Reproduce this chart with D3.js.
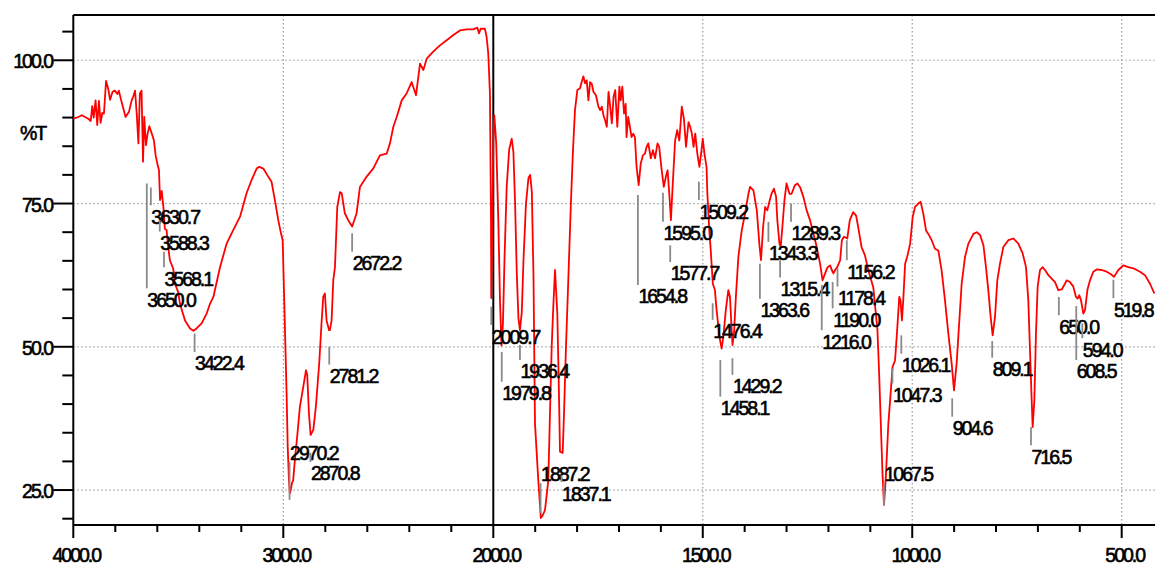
<!DOCTYPE html>
<html>
<head>
<meta charset="utf-8">
<script src="https://cdn.jsdelivr.net/npm/d3@7"></script>
<style>
  html, body { margin: 0; padding: 0; background: #fff; }
  svg { display: block; }
  text { font-family: "Liberation Sans", Arial, sans-serif; font-size: 19.5px; letter-spacing: -2px; fill: #000; stroke: #000; stroke-width: 0.6px; }
</style>
</head>
<body>
<svg id="chart" width="1155" height="566"></svg>
<script>
// IR spectrum: wavenumber (cm-1) and transmittance (%T)
const wavenumber = [
  4000, 3976, 3960, 3944, 3929, 3917, 3910, 3903, 3894, 3886, 3878, 3870, 3862, 3854, 3844, 3833, 3825, 3813, 3802, 3790,
  3783, 3770, 3751, 3735, 3722, 3714, 3706, 3698, 3690, 3683, 3675, 3668, 3662, 3654, 3646, 3638, 3627, 3616, 3608, 3600,
  3592, 3587, 3579, 3571, 3564, 3556, 3548, 3540, 3524, 3516, 3500, 3492, 3468, 3444, 3428, 3413, 3389, 3365, 3349, 3333,
  3302, 3270, 3238, 3206, 3175, 3151, 3127, 3114, 3095, 3072, 3056, 3040, 3024, 3011, 3003, 2999, 2992, 2984, 2979, 2973,
  2969, 2965, 2959, 2953, 2945, 2934, 2921, 2905, 2892, 2886, 2878, 2870, 2857, 2845, 2829, 2818, 2810, 2802, 2794, 2782,
  2778, 2770, 2762, 2754, 2743, 2730, 2722, 2707, 2691, 2672, 2651, 2635, 2603, 2572, 2540, 2508, 2492, 2476, 2460, 2436,
  2413, 2389, 2368, 2349, 2333, 2317, 2286, 2254, 2222, 2190, 2159, 2127, 2095, 2076, 2068, 2060, 2040, 2032, 2024, 2016,
  2011, 2009.7, 2004, 2000, 1997.6, 1993, 1988, 1984, 1980.4, 1977, 1973, 1968, 1962, 1956, 1952, 1948, 1944, 1940, 1936.4, 1932,
  1928, 1922, 1916, 1912, 1908, 1904, 1900.5, 1892.6, 1886.5, 1882, 1876.6, 1868.7, 1864.7, 1860.6, 1856.8, 1852.7, 1847.2, 1843.9, 1840.8, 1834.4,
  1831.2, 1826.5, 1821, 1814.5, 1809.8, 1805, 1799.4, 1793, 1789, 1785, 1781, 1777, 1773, 1769, 1765, 1761, 1755, 1749, 1745, 1741,
  1737, 1733, 1729, 1725, 1721, 1717, 1713, 1709, 1704, 1699, 1696, 1692, 1688, 1684, 1682, 1678, 1674, 1670, 1666, 1662,
  1658, 1653, 1648, 1643, 1638, 1634, 1630, 1624, 1619, 1614, 1608, 1604, 1598, 1593, 1588, 1584, 1580, 1576, 1572, 1566,
  1561, 1556, 1550, 1545, 1540, 1534, 1530, 1526, 1522, 1518, 1513, 1508, 1504, 1500, 1496, 1491, 1489, 1484, 1481, 1476,
  1471, 1467, 1460, 1455, 1451, 1445, 1439, 1435, 1431, 1429, 1425, 1421, 1415, 1407, 1399, 1391, 1387, 1379, 1371, 1365,
  1361, 1356, 1351, 1346, 1341, 1336, 1330, 1325, 1322, 1317, 1314, 1310, 1305, 1300, 1293, 1288, 1280, 1274, 1268, 1260,
  1252, 1244, 1236, 1228, 1220, 1214, 1208, 1202, 1196, 1192, 1188, 1184, 1179, 1172, 1168, 1163, 1155, 1149, 1141, 1134,
  1129, 1121, 1113, 1105, 1093, 1083, 1079, 1075, 1071, 1067.4, 1063, 1057, 1051, 1047, 1041, 1036, 1031, 1028, 1024.5, 1021,
  1017, 1012, 1005, 999, 993.4, 985.5, 980, 973.5, 967, 961.6, 953.6, 945.7, 937.7, 929.8, 921.8, 913.8, 905.9, 900.3, 894, 888,
  882, 874, 866, 854, 846, 838, 830, 824, 818.4, 812.8, 808, 802.4, 796.9, 790.5, 782.5, 770.6, 758.7, 746.7, 736.4, 728.4,
  722.9, 718.9, 714.9, 712.5, 708.5, 704.6, 700.6, 695, 688.7, 683, 675, 667.2, 659.2, 651.3, 643.3, 635.3, 631.4, 623.4, 615.5, 609.1,
  605.1, 601.1, 597.1, 591.6, 587.6, 581.9, 575.7, 567.7, 559.8, 547.9, 535.9, 526.3, 518.4, 508, 496.1, 484.1, 472.2, 456.3, 444.4, 432.4,
  422.1
];
const transmittance = [
  89.8, 90.1, 90.4, 90.1, 89.8, 89.4, 92.0, 90.0, 93.0, 88.7, 92.9, 89.1, 90.8, 90.7, 96.4, 94.9, 93.1, 94.5, 94.7, 94.1,
  94.7, 92.7, 90.1, 91.0, 93.0, 93.7, 94.7, 90.7, 85.5, 94.2, 94.7, 82.3, 90.1, 85.2, 87.2, 88.5, 87.3, 86.0, 83.4, 82.0,
  80.8, 75.6, 77.2, 74.4, 70.6, 70.4, 67.4, 65.1, 63.6, 61.0, 59.5, 57.5, 54.6, 53.2, 52.8, 53.2, 54.1, 55.8, 57.5, 58.7,
  63.8, 68.0, 70.4, 72.7, 76.8, 79.1, 81.1, 81.4, 81.1, 79.7, 78.8, 75.6, 72.1, 69.8, 68.6, 63.0, 53.0, 41.3, 32.5, 26.7,
  24.4, 24.9, 26.2, 26.7, 30.2, 34.3, 39.5, 43.0, 45.9, 45.1, 38.4, 34.6, 35.5, 39.5, 47.1, 54.1, 58.7, 59.3, 54.6, 52.9,
  52.9, 54.6, 61.6, 63.9, 74.4, 77.0, 76.8, 73.3, 72.1, 71.0, 73.3, 77.9, 79.7, 81.1, 83.4, 83.7, 85.5, 88.4, 90.1, 93.0,
  94.2, 96.2, 93.9, 99.4, 98.3, 100.3, 101.5, 102.6, 103.5, 104.4, 105.2, 105.4, 105.4, 105.7, 104.7, 105.5, 105.5, 104.1, 101.2, 94.2,
  72.0, 58.5, 72.0, 86.0, 90.4, 85.5, 72.0, 58.0, 50.2, 54.0, 66.0, 78.0, 84.5, 86.3, 84.0, 75.0, 63.0, 55.0, 52.9, 56.0,
  65.0, 75.0, 79.5, 80.0, 77.0, 62.0, 36.6, 26.7, 20.1, 20.6, 21.5, 26.7, 38.4, 50.0, 57.0, 63.4, 55.8, 44.2, 31.7, 31.5,
  38.4, 50.0, 61.6, 75.6, 84.3, 91.3, 94.8, 95.1, 96.2, 97.2, 96.0, 96.5, 93.0, 96.2, 95.9, 94.5, 93.9, 91.9, 91.3, 91.9,
  90.4, 89.5, 88.4, 94.5, 91.9, 89.0, 93.6, 94.8, 88.4, 95.4, 93.0, 95.4, 90.7, 92.4, 86.6, 90.1, 88.4, 86.6, 87.2, 86.6,
  81.4, 78.2, 82.0, 83.4, 83.7, 84.9, 85.5, 82.9, 84.3, 82.9, 85.5, 84.9, 80.8, 77.9, 79.7, 80.8, 76.8, 72.1, 77.9, 86.0,
  87.8, 86.0, 91.9, 89.8, 84.9, 89.2, 88.4, 87.2, 84.9, 87.2, 83.7, 81.4, 83.7, 86.3, 83.7, 81.4, 76.7, 69.8, 66.9, 61.0,
  59.9, 56.4, 51.7, 49.7, 51.7, 56.4, 59.9, 58.7, 52.9, 50.3, 52.9, 58.7, 65.7, 70.3, 73.3, 76.7, 77.9, 77.3, 73.8, 68.0,
  65.1, 70.9, 74.4, 73.8, 75.3, 76.7, 77.6, 76.2, 72.1, 68.0, 67.4, 70.9, 75.6, 78.5, 76.7, 76.7, 78.2, 78.5, 77.9, 76.2,
  73.8, 72.1, 69.8, 67.4, 64.5, 61.6, 62.8, 63.9, 64.2, 63.4, 62.8, 63.4, 63.9, 65.1, 68.6, 69.2, 68.9, 72.1, 73.5, 72.9,
  70.9, 67.4, 66.0, 63.4, 60.4, 52.9, 45.3, 36.6, 27.9, 22.4, 27.3, 36.6, 42.4, 46.5, 47.6, 52.9, 58.7, 58.1, 54.6, 58.7,
  64.5, 65.7, 68.0, 72.6, 74.4, 75.0, 75.3, 73.2, 70.3, 69.7, 68.6, 67.1, 66.8, 63.3, 58.1, 52.3, 47.1, 42.4, 47.1, 54.1,
  61.0, 65.7, 68.0, 69.7, 70.0, 69.5, 67.7, 63.9, 59.9, 55.2, 52.0, 55.2, 61.6, 64.5, 67.4, 68.6, 68.9, 68.0, 66.3, 63.9,
  58.1, 49.4, 40.7, 36.0, 40.7, 52.3, 60.5, 63.4, 63.9, 63.4, 62.5, 61.9, 61.3, 59.9, 60.0, 61.0, 61.6, 61.3, 60.5, 58.7,
  58.4, 59.0, 58.1, 55.8, 56.4, 59.9, 61.6, 63.1, 63.5, 63.4, 63.1, 62.7, 62.2, 63.4, 64.2, 63.9, 63.7, 63.1, 62.5, 61.0,
  59.3
];

// Picked peaks, with the %T span of each marker stroke
const peakWavenumber = [3650.0, 3630.7, 3588.3, 3568.1, 3422.4, 2970.2, 2870.8, 2781.2, 2672.2, 2009.7,
  1979.8, 1936.4, 1887.2, 1837.1, 1654.8, 1595.0, 1577.7, 1509.2, 1476.4, 1458.1,
  1429.2, 1363.6, 1343.3, 1315.4, 1289.3, 1216.0, 1190.0, 1178.4, 1156.2, 1067.5,
  1047.3, 1026.1, 904.6, 809.1, 716.5, 650.0, 608.5, 594.0, 519.8];
const markerTop = [78.5, 77.8, 72.1, 66.6, 52.3, 29.9, 31.5, 50.0, 69.8, 57.0,
  49.1, 50.3, 26.2, 27.6, 76.5, 76.9, 67.7, 78.8, 57.6, 47.7,
  48.0, 64.5, 71.8, 65.1, 75.0, 60.8, 61.3, 63.7, 68.6, 26.2,
  46.2, 52.0, 41.0, 51.0, 36.0, 58.7, 57.1, 54.1, 61.7];
const markerBottom = [60.2, 74.7, 70.1, 63.9, 49.1, 23.3, 29.9, 46.9, 66.6, 53.8,
  43.9, 47.7, 21.0, 26.4, 60.8, 71.8, 64.8, 75.6, 54.7, 41.3,
  45.1, 58.4, 68.3, 62.1, 71.8, 52.9, 56.7, 60.5, 65.1, 22.4,
  43.6, 48.8, 37.8, 48.1, 32.8, 55.5, 47.7, 51.5, 58.5];
// Peaks whose label sits above the marker instead of below it
const labelAbove = [2970.2, 1887.2, 1067.5];

const yTicks = d3.range(20, 106, 5);
const yLabels = [25, 50, 75, 100];
const xTicks = d3.range(4000, 2000, -200).concat(d3.range(2000, 420, -100));
const xLabels = [4000, 3000, 2000, 1500, 1000, 500];
const yTitle = "%T";

const svg = d3.select("#chart");
const plotLeft = 73.3, plotTop = 15, plotBottom = 525, plotRight = 1155;

// Abscissa is compressed 2:1 above 2000 cm-1
const x = d3.scaleLinear().domain([4000, 2000, 420.5]).range([plotLeft, 493.3, plotRight]);
const y = d3.scaleLinear().domain([18.9, 107.9]).range([plotBottom, plotTop]);

// Dotted grid
const grid = svg.append("g").attr("stroke", "#9a9a9a").attr("stroke-width", 1.2).attr("stroke-dasharray", "1.4,2.6");
yLabels.forEach(v => grid.append("line").attr("x1", plotLeft).attr("x2", plotRight).attr("y1", y(v)).attr("y2", y(v)));
xLabels.filter(v => v !== 4000 && v !== 2000).forEach(v =>
  grid.append("line").attr("x1", x(v)).attr("x2", x(v)).attr("y1", plotTop).attr("y2", plotBottom));

// Axes frame
const frame = svg.append("g").attr("stroke", "#000").attr("stroke-width", 2);
frame.append("line").attr("x1", plotLeft).attr("x2", plotRight).attr("y1", plotTop).attr("y2", plotTop);
frame.append("line").attr("x1", plotLeft).attr("x2", plotRight).attr("y1", plotBottom).attr("y2", plotBottom);
frame.append("line").attr("x1", plotLeft).attr("x2", plotLeft).attr("y1", plotTop).attr("y2", plotBottom);
frame.append("line").attr("x1", x(2000)).attr("x2", x(2000)).attr("y1", plotTop).attr("y2", plotBottom);

// Y ticks
yTicks.forEach(v => {
  const major = yLabels.includes(v);
  frame.append("line").attr("x1", plotLeft - (major ? 20 : 11)).attr("x2", plotLeft).attr("y1", y(v)).attr("y2", y(v));
});
svg.append("g").selectAll("text").data(yLabels).join("text")
  .attr("x", 52).attr("y", d => y(d) + 8).attr("text-anchor", "end")
  .text(d => d3.format(".1f")(d));
svg.append("text").attr("x", 20).attr("y", 140).text(yTitle);

// X ticks
xTicks.forEach(v => {
  const major = xLabels.includes(v);
  frame.append("line").attr("x1", x(v)).attr("x2", x(v)).attr("y1", plotBottom).attr("y2", plotBottom + (major ? 13 : 7));
});
svg.append("g").selectAll("text").data(xLabels).join("text")
  .attr("x", d => x(d) + 3).attr("y", 562).attr("text-anchor", "middle")
  .text(d => d3.format(".1f")(d));

// Spectrum trace
const points = wavenumber.map((w, i) => [w, transmittance[i]]);
svg.append("path").datum(points)
  .attr("fill", "none").attr("stroke", "#ff0000").attr("stroke-width", 1.8).attr("stroke-linejoin", "round")
  .attr("d", d3.line().x(d => x(d[0])).y(d => y(d[1])));

// Peak markers and labels
const peaks = svg.append("g");
peakWavenumber.forEach((w, i) => {
  const px = x(w);
  peaks.append("line").attr("x1", px).attr("x2", px)
    .attr("y1", y(markerTop[i])).attr("y2", y(markerBottom[i]))
    .attr("stroke", "#8a8a8a").attr("stroke-width", 1.8);
  const above = labelAbove.includes(w);
  peaks.append("text").attr("x", px + 0.5)
    .attr("y", above ? y(markerTop[i]) - 2 : y(markerBottom[i]) + 18.5)
    .text(d3.format(".1f")(w));
});
</script>
</body>
</html>
